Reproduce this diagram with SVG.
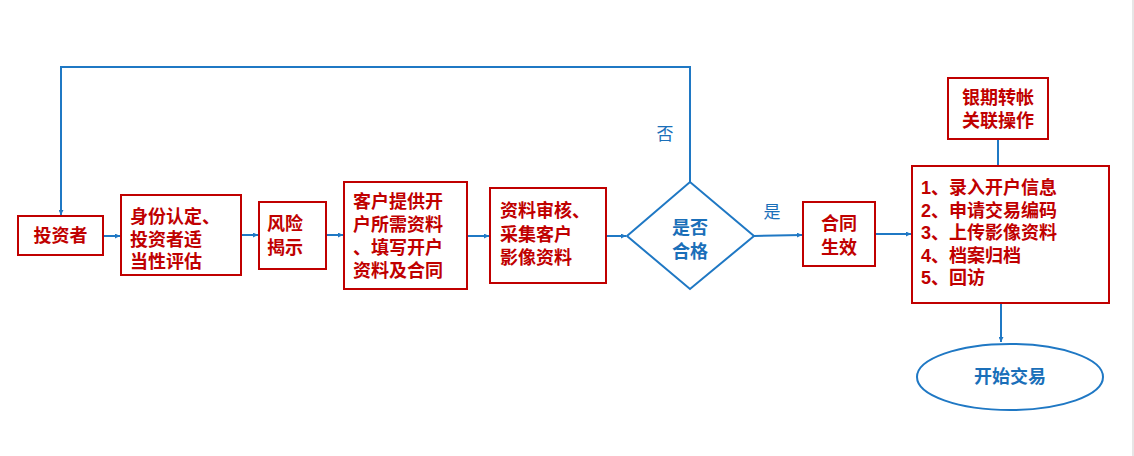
<svg xmlns="http://www.w3.org/2000/svg" width="1134" height="456" viewBox="0 0 1134 456">
<defs>
<marker id="ah" viewBox="0 0 10 10" refX="10" refY="5" markerWidth="5" markerHeight="5" orient="auto" markerUnits="userSpaceOnUse">
<path d="M0,0 L10,5 L0,10 Z" fill="#1f78c4"/>
</marker>
<style>
.box{fill:#fff;stroke:#c00000;stroke-width:2}
.t{font-family:"Liberation Sans","Noto Sans CJK SC",sans-serif;font-weight:bold;font-size:18px;fill:#c00000}
.b{font-family:"Liberation Sans","Noto Sans CJK SC",sans-serif;font-weight:bold;font-size:18px;fill:#1a6fb9}
.l{font-family:"Liberation Sans","Noto Sans CJK SC",sans-serif;font-size:17px;fill:#1a6fb9}
.c{fill:none;stroke:#1f78c4;stroke-width:2}
</style>
</defs>
<rect width="1134" height="456" fill="#fff"/>
<rect x="1132" y="0" width="2" height="456" fill="#e6e6e6"/>
<g id="connectors">
<polyline class="c" points="690,182 690,67 61,67 61,215" marker-end="url(#ah)"/>
<line class="c" x1="103" y1="236" x2="120" y2="236" marker-end="url(#ah)"/>
<line class="c" x1="241" y1="235" x2="258" y2="235" marker-end="url(#ah)"/>
<line class="c" x1="326" y1="235" x2="343" y2="235" marker-end="url(#ah)"/>
<line class="c" x1="467" y1="236" x2="489" y2="236" marker-end="url(#ah)"/>
<line class="c" x1="606" y1="236" x2="626" y2="236" marker-end="url(#ah)"/>
<line class="c" x1="754" y1="236" x2="802" y2="235" marker-end="url(#ah)"/>
<line class="c" x1="875" y1="234" x2="911" y2="234" marker-end="url(#ah)"/>
<line class="c" x1="998" y1="139" x2="998" y2="166"/>
<line class="c" x1="1001" y1="303" x2="1001" y2="342" marker-end="url(#ah)"/>
<text class="l" x="665" y="140" text-anchor="middle">否</text>
<text class="l" x="772" y="218" text-anchor="middle">是</text>
</g>
<g id="n1"><rect class="box" x="18" y="216" width="85" height="39"/><text class="t" x="60.5" y="242" text-anchor="middle">投资者</text></g>
<g id="n2"><rect class="box" x="121" y="195" width="120" height="80"/>
<text class="t" x="130" y="223">身份认定、</text><text class="t" x="130" y="246">投资者适</text><text class="t" x="130" y="268">当性评估</text></g>
<g id="n3"><rect class="box" x="259" y="202" width="67" height="67"/>
<text class="t" x="267" y="230">风险</text><text class="t" x="267" y="254">揭示</text></g>
<g id="n4"><rect class="box" x="344" y="182" width="123" height="107"/>
<text class="t" x="353" y="208">客户提供开</text><text class="t" x="353" y="231">户所需资料</text><text class="t" x="353" y="254">、填写开户</text><text class="t" x="353" y="277">资料及合同</text></g>
<g id="n5"><rect class="box" x="490" y="188" width="116" height="95"/>
<text class="t" x="500" y="217">资料审核、</text><text class="t" x="500" y="241">采集客户</text><text class="t" x="500" y="264">影像资料</text></g>
<g id="n6"><polygon points="627,236 690,182 754,236 690,289" fill="#fff" stroke="#1f78c4" stroke-width="2"/>
<text class="b" x="690" y="234" text-anchor="middle">是否</text><text class="b" x="690" y="258" text-anchor="middle">合格</text></g>
<g id="n7"><rect class="box" x="803" y="202" width="72" height="64"/>
<text class="t" x="839" y="230" text-anchor="middle">合同</text><text class="t" x="839" y="254" text-anchor="middle">生效</text></g>
<g id="n8"><rect class="box" x="948" y="78" width="100" height="61"/>
<text class="t" x="998" y="104" text-anchor="middle">银期转帐</text><text class="t" x="998" y="127" text-anchor="middle">关联操作</text></g>
<g id="n9"><rect class="box" x="912" y="166" width="197" height="137"/>
<text class="t" x="921" y="194">1、录入开户信息</text>
<text class="t" x="921" y="217">2、申请交易编码</text>
<text class="t" x="921" y="239">3、上传影像资料</text>
<text class="t" x="921" y="262">4、档案归档</text>
<text class="t" x="921" y="284">5、回访</text></g>
<g id="n10"><ellipse cx="1010" cy="377" rx="93" ry="33" fill="#fff" stroke="#1f78c4" stroke-width="2"/>
<text class="b" x="1010" y="383" text-anchor="middle">开始交易</text></g>
</svg>
